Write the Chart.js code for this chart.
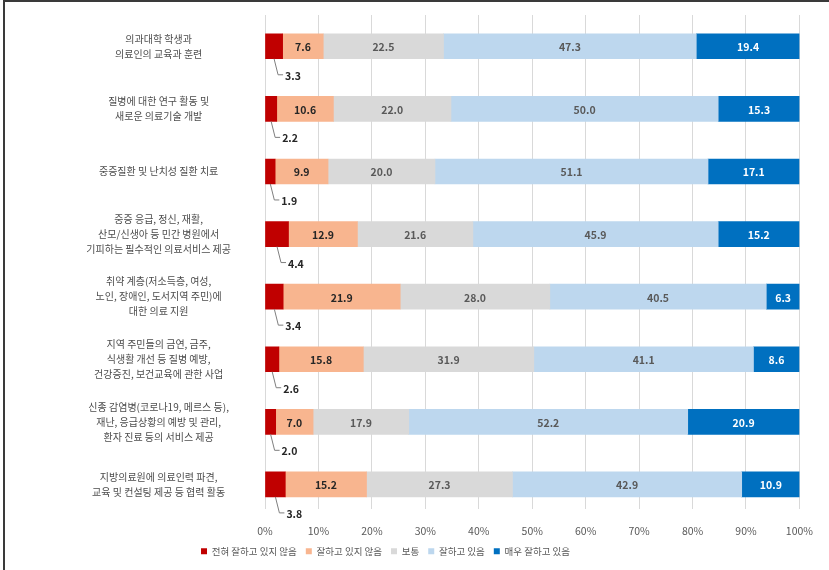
<!DOCTYPE html>
<html>
<head>
<meta charset="utf-8">
<script src="https://cdn.jsdelivr.net/npm/chart.js@4/dist/chart.umd.min.js"></script>
<style>
html,body{margin:0;padding:0;background:#fff;}
#wrap{position:relative;width:829px;height:570px;}
canvas{display:block;}
</style>
</head>
<body>
<div id="wrap"><canvas id="c" width="829" height="570"></canvas></div>
<script>
const categories = [
  ['의과대학 학생과','의료인의 교육과 훈련'],
  ['질병에 대한 연구 활동 및','새로운 의료기술 개발'],
  '중증질환 및 난치성 질환 치료',
  ['중증 응급, 정신, 재활,','산모/신생아 등 민간 병원에서','기피하는 필수적인 의료서비스 제공'],
  ['취약 계층(저소득층, 여성,','노인, 장애인, 도서지역 주민)에','대한 의료 지원'],
  ['지역 주민들의 금연, 금주,','식생활 개선 등 질병 예방,','건강증진, 보건교육에 관한 사업'],
  ['신종 감염병(코로나19, 메르스 등),','재난, 응급상황의 예방 및 관리,','환자 진료 등의 서비스 제공'],
  ['지방의료원에 의료인력 파견,','교육 및 컨설팅 제공 등 협력 활동']
];
const seriesNames = ['전혀 잘하고 있지 않음','잘하고 있지 않음','보통','잘하고 있음','매우 잘하고 있음'];
const veryPoor = [3.3, 2.2, 1.9, 4.4, 3.4, 2.6, 2.0, 3.8];
const poor     = [7.6, 10.6, 9.9, 12.9, 21.9, 15.8, 7.0, 15.2];
const neutral  = [22.5, 22.0, 20.0, 21.6, 28.0, 31.9, 17.9, 27.3];
const good     = [47.3, 50.0, 51.1, 45.9, 40.5, 41.1, 52.2, 42.9];
const veryGood = [19.4, 15.3, 17.1, 15.2, 6.3, 8.6, 20.9, 10.9];
const xTicks = [0,10,20,30,40,50,60,70,80,90,100];

const colors = ['#C00000','#F8B58F','#D9D9D9','#BDD7EE','#0070C0'];
const labelColors = [null,'#262626','#595959','#595959','#FFFFFF'];
const FONT = '"Noto Sans CJK KR", "Noto Sans", sans-serif';

const seriesData = [veryPoor, poor, neutral, good, veryGood];

const labelPlugin = {
  id: 'segLabels',
  afterDatasetsDraw(chart) {
    const ctx = chart.ctx;
    ctx.save();
    chart.data.datasets.forEach((ds, di) => {
      const meta = chart.getDatasetMeta(di);
      meta.data.forEach((bar, i) => {
        const v = ds.data[i];
        const txt = v.toFixed(1);
        const left = Math.min(bar.base, bar.x), right = Math.max(bar.base, bar.x);
        const cx = (left + right) / 2;
        if (di === 0) {
          const bottom = bar.y + bar.height / 2;
          const ly = bottom + 16;
          ctx.strokeStyle = '#7F7F7F';
          ctx.lineWidth = 1;
          ctx.beginPath();
          ctx.moveTo(cx, bottom);
          ctx.lineTo(cx + 4, ly);
          ctx.lineTo(cx + 9, ly);
          ctx.stroke();
          ctx.fillStyle = '#262626';
          ctx.font = 'bold 10.5px ' + FONT;
          ctx.textAlign = 'left';
          ctx.textBaseline = 'middle';
          ctx.fillText(txt, cx + 11, ly + 1);
        } else {
          ctx.fillStyle = labelColors[di];
          ctx.font = 'bold 10.5px ' + FONT;
          ctx.textAlign = 'center';
          ctx.textBaseline = 'middle';
          ctx.fillText(txt, cx, bar.y + 1);
        }
      });
    });
    ctx.restore();
  }
};

const framePlugin = {
  id: 'frame',
  afterLayout(chart) {
    if (chart.legend) { chart.legend.left -= 15; chart.legend.right -= 15; }
  },
  afterDraw(chart) {
    const ctx = chart.ctx;
    ctx.save();
    ctx.fillStyle = '#3a3a3a';
    ctx.fillRect(3, 0, 2, chart.height);
    ctx.fillRect(3, 0, chart.width - 3, 2);
    ctx.restore();
  }
};

new Chart(document.getElementById('c'), {
  type: 'bar',
  data: {
    labels: categories,
    datasets: seriesNames.map((n, k) => ({
      label: n,
      data: seriesData[k],
      backgroundColor: colors[k],
      borderWidth: 0,
      barThickness: 25
    }))
  },
  options: {
    indexAxis: 'y',
    responsive: false,
    animation: false,
    devicePixelRatio: 1,
    layout: { padding: { left: 0, right: 28, top: 15, bottom: 4 } },
    scales: {
      x: {
        stacked: true,
        min: 0, max: 100,
        afterBuildTicks(scale) { scale.ticks = xTicks.map(v => ({ value: v })); },
        afterFit(scale) { scale.height = 29; },
        ticks: {
          callback: v => v + '%',
          color: '#595959',
          font: { family: FONT, size: 10.5 },
          padding: 16
        },
        grid: { color: '#D9D9D9', drawTicks: false, lineWidth: 1 },
        border: { display: false }
      },
      y: {
        stacked: true,
        afterBuildTicks(scale) { scale._startValue = -0.5; scale._valueRange = 7.885; },
        afterFit(scale) { scale.width = 265; scale.paddingTop = 0; scale.paddingBottom = 0; },
        ticks: {
          crossAlign: 'center',
          color: '#4d4d4d',
          font: { family: FONT, size: 10, lineHeight: 1.5 },
          padding: 34
        },
        grid: { display: false, drawTicks: false },
        border: { display: true, color: '#D9D9D9' }
      }
    },
    plugins: {
      legend: {
        position: 'bottom',
        labels: {
          boxWidth: 6, boxHeight: 6,
          color: '#595959',
          font: { family: FONT, size: 9.5 },
          padding: 9
        }
      },
      tooltip: { enabled: false }
    }
  },
  plugins: [labelPlugin, framePlugin]
});
</script>
</body>
</html>
